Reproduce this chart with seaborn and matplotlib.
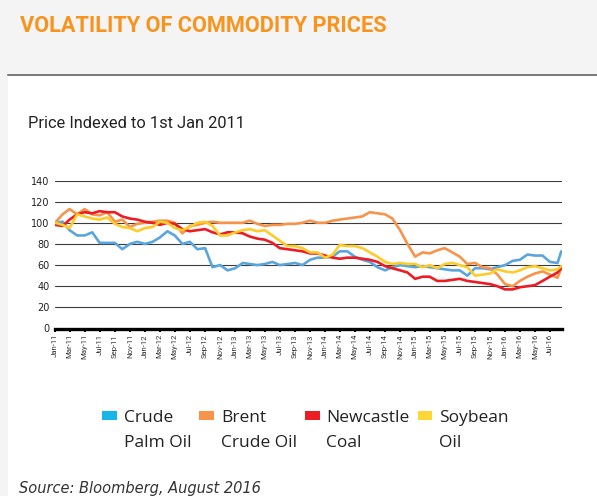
import pandas as pd
import seaborn as sns
import matplotlib.pyplot as plt
import matplotlib.dates as mdates
from matplotlib.patches import Patch, Rectangle
from matplotlib.lines import Line2D

# Monthly readings, Jan-11 .. Aug-16, plus the last print in mid Aug-16
dates = list(pd.date_range('2011-01-01', '2016-08-01', freq='MS')) + [pd.Timestamp('2016-08-16')]

palm_oil = [100, 101, 93, 88, 88, 91, 81, 81, 81, 75, 80, 82, 80, 82, 86, 92, 88, 80,
            82, 75, 76, 58, 60, 55, 57, 62, 61, 60, 61, 63, 60, 61, 62, 60, 65,
            67, 67, 68, 73, 73, 68, 65, 63, 58, 55, 58, 60, 59, 58, 59, 58, 57,
            56, 55, 55, 50, 57, 57, 56, 58, 60, 64, 65, 70, 69, 69, 63, 62, 73]
brent = [100, 108, 113, 108, 113, 108, 107, 110, 101, 103, 96, 99, 100, 101, 102, 102, 100, 90,
         97, 98, 100, 101, 100, 100, 100, 100, 102, 99, 97, 98, 98, 99, 99, 100, 102,
         100, 100, 102, 103, 104, 105, 106, 110, 109, 108, 104, 93, 80, 68, 72, 71, 74,
         76, 72, 68, 61, 62, 58, 57, 51, 42, 40, 45, 49, 52, 54, 51, 48, 57]
coal = [98, 97, 103, 108, 110, 109, 111, 110, 110, 106, 104, 103, 101, 100, 98, 100, 99, 94,
        92, 93, 94, 91, 89, 91, 91, 90, 87, 85, 84, 81, 76, 75, 74, 73, 71,
        71, 69, 67, 66, 67, 67, 66, 65, 63, 59, 57, 55, 53, 47, 49, 49, 45,
        45, 46, 47, 45, 44, 43, 42, 40, 37, 37, 39, 40, 41, 45, 49, 53, 57]
soybean = [100, 98, 95, 108, 106, 104, 103, 105, 99, 96, 95, 92, 95, 96, 101, 100, 95, 93,
           96, 100, 101, 97, 88, 88, 91, 93, 94, 92, 93, 88, 83, 78, 78, 76, 72,
           72, 67, 70, 79, 78, 78, 76, 72, 68, 63, 61, 62, 61, 61, 58, 60, 57,
           61, 62, 60, 58, 50, 51, 52, 56, 54, 53, 55, 58, 59, 57, 55, 56, 59]

series = ['Crude Palm Oil', 'Brent Crude Oil', 'Newcastle Coal', 'Soybean Oil']
legend_lines = [('Crude', 'Palm Oil'), ('Brent', 'Crude Oil'), ('Newcastle', 'Coal'), ('Soybean', 'Oil')]
line_colors = ['#5aa6dc', '#f7944a', '#ec1c24', '#fdcb2a']
swatch_colors = ['#17b6ea', '#f7944a', '#ec1c24', '#fdd835']
tick_dates = pd.date_range('2011-01-01', '2016-07-01', freq='2MS')

df = pd.DataFrame({'date': dates * 4,
                   'value': palm_oil + brent + coal + soybean,
                   'series': [s for s in series for _ in dates]})

sns.set_theme(style='white')
plt.rcParams['font.family'] = ['Open Sans', 'DejaVu Sans']

fig = plt.figure(figsize=(5.97, 4.96), dpi=100, facecolor='#f4f4f4')
# white card + rule under the heading
fig.patches.append(Rectangle((8 / 597, 0), 1, 1 - 76 / 496, transform=fig.transFigure,
                             facecolor='white', edgecolor='none', zorder=-5))
fig.lines.append(Line2D([8 / 597, 1], [1 - 75 / 496] * 2, transform=fig.transFigure,
                        color='#777777', lw=1.4, zorder=-4))

ax = fig.add_axes([55 / 597, 1 - 328.5 / 496, 507 / 597, 148 / 496])
ax.set_facecolor('none')
sns.lineplot(data=df, x='date', y='value', hue='series', palette=line_colors,
             linewidth=1.9, legend=False, ax=ax)

ax.set_ylim(0, 140)
ax.set_yticks(range(0, 141, 20))
ax.set_xlim(pd.Timestamp('2011-01-01'), pd.Timestamp('2016-08-19'))
ax.set_xticks(tick_dates)
ax.xaxis.set_major_formatter(mdates.DateFormatter('%b-%y'))
ax.grid(axis='y', color='#3c3c3c', lw=0.8)
ax.set_axisbelow(True)
for side in ['top', 'right', 'left']:
    ax.spines[side].set_visible(False)
ax.spines['bottom'].set_color('black')
ax.spines['bottom'].set_linewidth(2.4)
ax.tick_params(axis='x', length=2.5, width=1.4, color='black', pad=1.5,
               labelsize=5.6, labelcolor='#333333', rotation=90, bottom=True)
ax.tick_params(axis='y', length=0, pad=4, labelsize=7, labelcolor='#222222')
for lbl in ax.get_xticklabels():
    lbl.set_fontfamily('Roboto')
for lbl in ax.get_yticklabels():
    lbl.set_fontfamily('DejaVu Sans')
ax.set_xlabel('')
ax.set_ylabel('')

# legend: first line with swatch, second line under it with blank swatch
handles, labels = [], []
for (top, bottom), c in zip(legend_lines, swatch_colors):
    handles += [Patch(facecolor=c, edgecolor='none'), Patch(facecolor='none', edgecolor='none')]
    labels += [top, bottom]
fig.legend(handles, labels, ncol=4, loc='upper left', bbox_to_anchor=(102 / 597, 1 - 410 / 496),
           frameon=False, fontsize=12.5, handlelength=0.85, handleheight=0.4, handletextpad=0.4,
           columnspacing=0.45, labelspacing=0.5, borderpad=0, borderaxespad=0,
           labelcolor='#222222')

fig.text(20 / 597, 1 - 31.5 / 496, 'VOLATILITY OF COMMODITY PRICES', color='#f7941d',
         fontsize=15.7, fontweight='bold', family='Roboto', va='baseline')
fig.text(28 / 597, 1 - 128 / 496, 'Price Indexed to 1st Jan 2011', color='#222222',
         fontsize=11.8, family='Roboto', va='baseline')
fig.text(19 / 597, 1 - 493 / 496, 'Source: Bloomberg, August 2016', color='#333333',
         fontsize=10.5, style='italic', family='DejaVu Sans', va='baseline')

fig.savefig('out.png', dpi=100, facecolor=fig.get_facecolor())
